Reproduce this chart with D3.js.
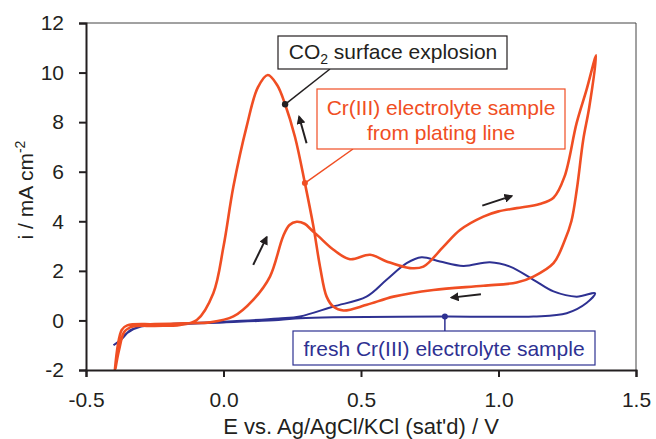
<!DOCTYPE html>
<html>
<head>
<meta charset="utf-8">
<script src="https://cdn.jsdelivr.net/npm/d3@7"></script>
<style>
body{margin:0;background:#fff;}
svg{display:block;font-family:"Liberation Sans",Arial,sans-serif;}
</style>
</head>
<body>
<svg></svg>
<script>
const width = 656;
const height = 439;
const margin = {top: 23, right: 20, bottom: 69, left: 86};
const orange = '#f04e23';
const blue = '#2e3192';
const ink = '#231f20';

// axis ticks
const xTicks = [-0.5, 0.0, 0.5, 1.0, 1.5];
const yTicks = [-2, 0, 2, 4, 6, 8, 10, 12];

// Cr(III) electrolyte from plating line: potential (V) / current density (mA cm-2)
const platingE = [-0.395, -0.37, -0.35, -0.25, -0.12, -0.05, 0.036, 0.108, 0.169, 0.217, 0.24, 0.266, 0.295, 0.32, 0.345, 0.40, 0.46, 0.533, 0.593, 0.678, 0.727, 0.80, 0.86, 0.945, 1.0, 1.066, 1.15, 1.2, 1.24, 1.284, 1.32, 1.355,
  1.33, 1.308, 1.285, 1.265, 1.24, 1.20, 1.127, 1.066, 0.945, 0.763, 0.618, 0.521, 0.436, 0.40, 0.375, 0.351, 0.327, 0.296, 0.26, 0.224, 0.195, 0.161, 0.125, 0.084, 0.036, 0.0, -0.037, -0.097, -0.158, -0.25, -0.33, -0.36, -0.38, -0.393];
const platingI = [-2.0, -0.38, -0.2, -0.15, -0.11, -0.08, 0.16, 0.83, 1.77, 3.4, 3.85, 3.98, 3.9, 3.65, 3.4, 2.85, 2.47, 2.65, 2.38, 2.11, 2.17, 2.98, 3.65, 4.19, 4.4, 4.53, 4.7, 4.95, 5.8, 7.96, 9.3, 10.7,
  8.6, 7.28, 5.3, 4.0, 3.2, 2.31, 1.77, 1.53, 1.40, 1.23, 0.96, 0.63, 0.40, 0.55, 0.96, 2.17, 3.79, 5.54, 7.4, 8.72, 9.5, 9.9, 9.4, 7.82, 5.40, 2.98, 1.10, 0.02, -0.18, -0.22, -0.25, -0.45, -1.2, -1.95];

// fresh Cr(III) electrolyte
const freshE = [-0.40, -0.37, -0.34, -0.30, -0.20, 0.0, 0.20, 0.278, 0.399, 0.52, 0.593, 0.666, 0.72, 0.787, 0.872, 0.969, 1.042, 1.127, 1.20, 1.284, 1.351,
  1.32, 1.248, 1.127, 0.805, 0.399, 0.278, 0.2, 0.0, -0.2, -0.3, -0.35, -0.38, -0.40];
const freshI = [-1.0, -0.75, -0.4, -0.25, -0.15, -0.05, 0.08, 0.16, 0.56, 0.96, 1.64, 2.31, 2.55, 2.38, 2.20, 2.35, 2.17, 1.64, 1.17, 0.96, 1.10,
  0.70, 0.29, 0.16, 0.16, 0.13, 0.09, 0.02, -0.08, -0.17, -0.25, -0.5, -0.85, -1.0];

// scan direction arrows [E tail, i tail, E head, i head]
const arrows = [
  [0.302, 7.15, 0.275, 8.22],
  [0.108, 2.24, 0.157, 3.36],
  [0.941, 4.63, 1.048, 5.02],
  [0.936, 1.06, 0.829, 0.92]
];

const svg = d3.select('svg').attr('width', width).attr('height', height);

const x = d3.scaleLinear().domain([-0.5, 1.5]).range([margin.left, width - margin.right]);
const y = d3.scaleLinear().domain([-2, 12]).range([height - margin.bottom, margin.top]);

svg.append('defs').append('marker')
  .attr('id', 'head').attr('viewBox', '0 0 10 10').attr('refX', 8).attr('refY', 5)
  .attr('markerWidth', 4.5).attr('markerHeight', 4.5).attr('orient', 'auto')
  .append('path').attr('d', 'M0,0 L10,5 L0,10 Z').attr('fill', ink);

// frame: top and right thin
svg.append('path')
  .attr('d', `M${x(-0.5)},${y(12)} H${x(1.5)} V${y(-2)}`)
  .attr('fill', 'none').attr('stroke', '#444').attr('stroke-width', 1);

const line = d3.line().x(d => x(d[0])).y(d => y(d[1])).curve(d3.curveCatmullRom.alpha(0.5));

svg.append('path')
  .datum(freshE.map((e, i) => [e, freshI[i]]))
  .attr('d', line).attr('fill', 'none').attr('stroke', blue).attr('stroke-width', 2);

svg.append('path')
  .datum(platingE.map((e, i) => [e, platingI[i]]))
  .attr('d', line).attr('fill', 'none').attr('stroke', orange).attr('stroke-width', 2.6);

// axes
const yAxis = svg.append('g').attr('transform', `translate(${x(-0.5)},0)`)
  .call(d3.axisLeft(y).tickValues(yTicks).tickSize(7).tickPadding(15).tickFormat(d3.format('d')));
const xAxis = svg.append('g').attr('transform', `translate(0,${y(-2)})`)
  .call(d3.axisBottom(x).tickValues(xTicks).tickSize(7).tickPadding(15).tickFormat(d3.format('.1f')));
[xAxis, yAxis].forEach(g => {
  g.select('.domain').attr('stroke', ink).attr('stroke-width', 2);
  g.selectAll('.tick line').attr('stroke', ink).attr('stroke-width', 2);
  g.selectAll('.tick text').attr('fill', ink).style('font-size', '21px')
    .style('font-family', '"Liberation Sans",Arial,sans-serif');
});
xAxis.selectAll('.tick text').text(d => d < 0 ? '-' + d3.format('.1f')(-d) : d3.format('.1f')(d));
yAxis.selectAll('.tick text').text(d => d < 0 ? '-' + (-d) : d);

// axis titles
svg.append('text').attr('x', x(0.5)).attr('y', 434).attr('text-anchor', 'middle')
  .attr('fill', ink).style('font-size', '22px').text("E vs. Ag/AgCl/KCl (sat'd) / V");
const yl = svg.append('text').attr('transform', `translate(33,190) rotate(-90)`)
  .attr('text-anchor', 'middle').attr('fill', ink).style('font-size', '21px');
yl.append('tspan').text('i / mA cm');
yl.append('tspan').attr('dy', -8).style('font-size', '14px').text('-2');

// arrows
svg.selectAll('line.arrow').data(arrows).enter().append('line').classed('arrow', true)
  .attr('x1', d => x(d[0])).attr('y1', d => y(d[1]))
  .attr('x2', d => x(d[2])).attr('y2', d => y(d[3]))
  .attr('stroke', ink).attr('stroke-width', 2).attr('marker-end', 'url(#head)');

// CO2 annotation
svg.append('line').attr('x1', 330).attr('y1', 69).attr('x2', x(0.224)).attr('y2', y(8.72))
  .attr('stroke', ink).attr('stroke-width', 1.5);
svg.append('circle').attr('cx', x(0.224)).attr('cy', y(8.72)).attr('r', 3.2).attr('fill', ink);
svg.append('rect').attr('x', 278).attr('y', 36).attr('width', 229).attr('height', 33)
  .attr('fill', '#fff').attr('stroke', ink).attr('stroke-width', 1.2);
const co2 = svg.append('text').attr('x', 393).attr('y', 59).attr('text-anchor', 'middle')
  .attr('fill', ink).style('font-size', '21px');
co2.append('tspan').text('CO');
co2.append('tspan').attr('dy', 5).style('font-size', '14px').text('2');
co2.append('tspan').attr('dy', -5).text(' surface explosion');

// plating line annotation
svg.append('line').attr('x1', 353).attr('y1', 149).attr('x2', x(0.296)).attr('y2', y(5.54))
  .attr('stroke', orange).attr('stroke-width', 1.5);
svg.append('circle').attr('cx', x(0.296)).attr('cy', y(5.54)).attr('r', 3).attr('fill', orange);
svg.append('rect').attr('x', 317).attr('y', 89).attr('width', 248).attr('height', 60)
  .attr('fill', '#fff').attr('stroke', orange).attr('stroke-width', 1.2);
svg.append('text').attr('x', 441).attr('y', 115).attr('text-anchor', 'middle')
  .attr('fill', orange).style('font-size', '21px').text('Cr(III) electrolyte sample');
svg.append('text').attr('x', 441).attr('y', 140).attr('text-anchor', 'middle')
  .attr('fill', orange).style('font-size', '21px').text('from plating line');

// fresh annotation
svg.append('line').attr('x1', x(0.805)).attr('y1', 331).attr('x2', x(0.805)).attr('y2', y(0.16))
  .attr('stroke', blue).attr('stroke-width', 1.5);
svg.append('circle').attr('cx', x(0.805)).attr('cy', y(0.16)).attr('r', 3).attr('fill', blue);
svg.append('rect').attr('x', 293).attr('y', 331).attr('width', 302).attr('height', 34)
  .attr('fill', '#fff').attr('stroke', blue).attr('stroke-width', 1.2);
svg.append('text').attr('x', 444).attr('y', 356).attr('text-anchor', 'middle')
  .attr('fill', blue).style('font-size', '21px').text('fresh Cr(III) electrolyte sample');
</script>
</body>
</html>
